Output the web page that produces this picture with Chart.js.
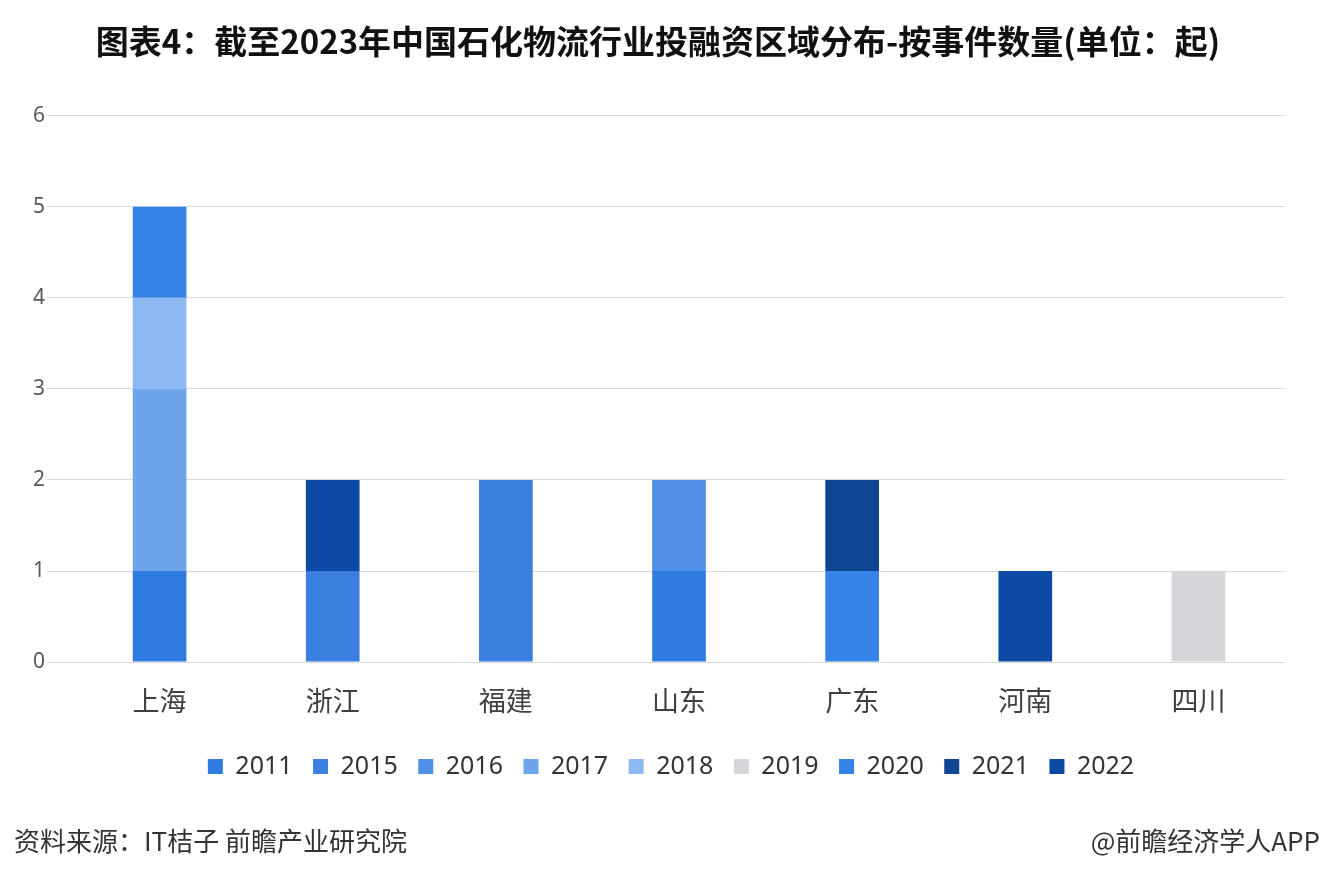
<!DOCTYPE html>
<html>
<head>
<meta charset="utf-8">
<script src="https://cdn.jsdelivr.net/npm/chart.js@4/dist/chart.umd.min.js"></script>
<style>
html,body{margin:0;padding:0;background:#fff;}
#wrap{position:relative;width:1320px;height:882px;}
canvas{position:absolute;left:0;top:0;}
.foot{position:absolute;top:821px;line-height:38px;font-family:"Noto Sans CJK SC","Noto Sans",sans-serif;font-size:26px;color:#333;}
</style>
</head>
<body>
<div id="wrap">
<canvas id="c" width="1320" height="882"></canvas>
<div class="foot" style="left:14px;">资料来源：IT桔子 前瞻产业研究院</div>
<div class="foot" style="right:0px;">@前瞻经济学人APP</div>
</div>
<script>
const categories = ["上海","浙江","福建","山东","广东","河南","四川"];
const years = ["2011","2015","2016","2017","2018","2019","2020","2021","2022"];
const v2011 = [1,0,0,1,0,0,0];
const v2015 = [0,1,2,0,0,0,0];
const v2016 = [0,0,0,1,0,0,0];
const v2017 = [2,0,0,0,0,0,0];
const v2018 = [1,0,0,0,0,0,0];
const v2019 = [0,0,0,0,0,0,1];
const v2020 = [1,0,0,0,1,0,0];
const v2021 = [0,0,0,0,1,0,0];
const v2022 = [0,1,0,0,0,1,0];
const yTicks = [0,1,2,3,4,5,6];
const colors = ["#2f7be0","#3a7fdf","#5090e6","#6ea4ec","#8cb9f2","#d5d6d9","#3583e6","#0f4592","#0d4aa6"];
const series = [v2011,v2015,v2016,v2017,v2018,v2019,v2020,v2021,v2022];

const datasets = years.map((y,i)=>({
  label:y,
  data:series[i].map(v=>v===0?null:v),
  backgroundColor:colors[i],
  borderWidth:0,
  barPercentage:0.31,
  categoryPercentage:1.0
}));

const legendShift = {
  id:'legendShift',
  afterLayout(chart){
    if(chart.legend){ chart.legend.left += 13; chart.legend.right += 13; chart.legend.top += 3; chart.legend.bottom += 3; }
  }
};

new Chart(document.getElementById('c'),{
  type:'bar',
  data:{labels:categories,datasets:datasets},
  plugins:[legendShift],
  options:{
    responsive:false,
    animation:false,
    layout:{padding:{left:31,right:35,top:0,bottom:96}},
    plugins:{
      title:{display:true,text:"图表4：截至2023年中国石化物流行业投融资区域分布-按事件数量(单位：起)",
        font:{family:"'Noto Sans CJK SC'",size:33,weight:'bold'},color:'#111',padding:{top:22,bottom:54}},
      legend:{position:'bottom',
        labels:{boxWidth:15,boxHeight:15,padding:20.5,color:'#333',font:{family:"'Noto Sans'",size:25}}},
      tooltip:{enabled:false}
    },
    scales:{
      x:{stacked:true,grid:{display:false},border:{display:false},
        ticks:{color:'#404040',padding:14,font:{family:"'Noto Sans CJK SC'",size:27}}},
      y:{stacked:true,min:0,max:6,
        afterBuildTicks:(ax)=>{ax.ticks=yTicks.map(v=>({value:v}));},
        grid:{color:'#d9d9d9',lineWidth:1,tickLength:26},
        border:{display:false},
        ticks:{color:'#595959',padding:2,font:{family:"'Noto Sans'",size:21}}}
    }
  }
});
</script>
</body>
</html>
